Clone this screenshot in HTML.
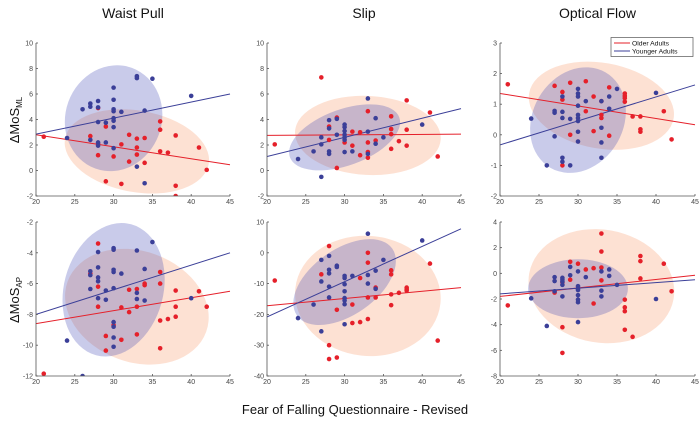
<!DOCTYPE html>
<html><head><meta charset="utf-8"><style>
body{margin:0;background:#fff;}
svg{display:block;font-family:"Liberation Sans",sans-serif;}
</style></head><body>
<svg id="fig" width="700" height="422"></svg>
<script>
// ---- data ----
const xTicks=[20,25,30,35,40,45];
const titles=["Waist Pull","Slip","Optical Flow"];
const yTicks1=[-2,0,2,4,6,8,10];
const yTicks2=[-2,0,2,4,6,8,10];
const yTicks3=[-2,-1,0,1,2,3];
const yTicks4=[-12,-10,-8,-6,-4,-2];
const yTicks5=[-40,-30,-20,-10,0,10];
const yTicks6=[-8,-6,-4,-2,0,2,4];
const old1=[[21,2.65],[27,2.7],[28,4.9],[28,2.1],[28,1.2],[29,3.45],[29,-0.85],[30,1.1],[31,2.05],[31,-1.05],[32,2.8],[32,0.7],[33,2.5],[33,1.8],[33,1.25],[34,2.55],[34,0.6],[36,3.85],[36,3.2],[36,1.5],[37,1.4],[38,2.75],[38,-1.2],[38,-2],[41,1.8],[42,0.05]];
const yng1=[[24,2.55],[26,4.8],[27,5.25],[27,5.0],[27,2.4],[28,5.45],[28,4.95],[28,3.8],[28,2.2],[28,1.95],[29,3.75],[29,2.2],[30,6.5],[30,5.55],[30,4.8],[30,4.65],[30,4.1],[30,3.9],[30,3.4],[30,1.75],[31,4.6],[33,7.4],[33,7.25],[33,0.3],[34,4.7],[34,-1],[35,7.2],[40,5.85]];
const old2=[[21,2.05],[27,7.3],[28,3.45],[28,2.4],[29,4.15],[29,0.2],[30,2.2],[31,3.05],[31,1.95],[32,3.0],[32,1.2],[33,4.65],[33,2.2],[33,1.45],[33,1.0],[34,2.35],[36,4.25],[36,3.25],[36,2.85],[36,1.7],[37,2.3],[38,5.5],[38,3.2],[38,1.95],[41,4.55],[42,1.1]];
const yng2=[[24,0.9],[26,1.5],[27,2.6],[27,2.05],[27,-0.5],[28,3.95],[28,3.3],[28,1.5],[28,1.3],[29,4.05],[29,2.8],[30,3.6],[30,3.4],[30,3.1],[30,2.8],[30,2.6],[30,2.4],[30,1.45],[31,1.5],[33,5.65],[33,3.05],[33,1.3],[34,4.1],[34,2.1],[35,2.6],[40,3.6]];
const old3=[[21,1.65],[27,1.6],[28,1.4],[28,1.15],[28,-1.0],[29,1.7],[29,0.0],[31,1.75],[31,0.77],[32,1.25],[32,0.12],[33,1.1],[33,0.65],[33,0.55],[34,1.55],[34,-0.03],[36,1.35],[36,1.27],[36,1.2],[36,1.08],[37,0.6],[38,0.6],[38,0.18],[38,0.1],[41,0.77],[42,-0.15]];
const yng3=[[24,0.53],[26,-1.0],[27,0.78],[27,0.72],[27,-0.05],[28,1.25],[28,0.75],[28,0.55],[28,-0.75],[28,-0.88],[29,0.52],[29,-1.0],[30,1.5],[30,1.35],[30,1.25],[30,0.95],[30,0.65],[30,0.55],[30,0.45],[30,0.1],[30,-0.22],[31,1.1],[33,1.1],[33,0.23],[33,-0.25],[33,-0.75],[34,1.25],[34,0.85],[35,1.5],[40,1.37]];
const old4=[[21,-11.85],[27,-5.35],[28,-3.4],[28,-6.2],[28,-7.5],[29,-9.4],[29,-10.35],[30,-8.7],[31,-7.55],[31,-9.65],[32,-6.4],[32,-7.85],[33,-6.35],[33,-7.5],[33,-9.3],[34,-6.0],[34,-6.1],[36,-5.25],[36,-6.0],[36,-8.4],[36,-10.2],[37,-8.3],[38,-6.45],[38,-7.5],[38,-8.15],[41,-6.5],[42,-7.5]];
const yng4=[[24,-9.7],[26,-12],[27,-5.2],[27,-5.45],[27,-6.35],[28,-3.95],[28,-4.95],[28,-5.6],[28,-5.85],[28,-6.95],[29,-6.45],[29,-7.05],[30,-3.7],[30,-3.8],[30,-5.1],[30,-5.25],[30,-6.3],[30,-8.5],[30,-8.8],[30,-9.5],[30,-10.1],[31,-5.35],[33,-3.85],[33,-6.6],[33,-7.0],[34,-5.05],[34,-7.1],[35,-3.3],[40,-6.95]];
const old5=[[21,-9],[27,-7],[28,2.2],[28,-30],[28,-34.5],[29,-18.5],[29,-34],[31,-16.8],[31,-22.8],[32,-8.2],[32,-22.5],[33,0],[33,-3.2],[33,-14.5],[33,-21.5],[34,-11.3],[34,-14.5],[36,-5.7],[36,-7],[36,-13.5],[36,-17],[37,-13],[38,-11.3],[38,-11.8],[38,-12.3],[41,-3.5],[42,-28.5]];
const yng5=[[24,-21.2],[26,-16.8],[27,-2.3],[27,-9.3],[27,-25.5],[28,-1],[28,-5.5],[28,-6.7],[28,-11],[28,-14.5],[29,-4.2],[29,-4.6],[30,-7.5],[30,-8.2],[30,-10.2],[30,-12.5],[30,-14.7],[30,-15.5],[30,-16.7],[30,-23.2],[31,-7.5],[33,6.2],[33,-7.2],[33,-10],[34,-5.8],[34,-11.7],[35,-2.3],[40,4]];
const old6=[[21,-2.5],[27,-1.5],[28,-0.7],[28,-4.2],[28,-6.2],[29,0.9],[29,-0.5],[30,0.75],[31,0.3],[32,0.4],[32,-2.35],[33,3.1],[33,1.7],[33,0.45],[33,-0.55],[36,-2.05],[36,-2.65],[36,-2.95],[36,-4.4],[37,-4.95],[38,1.35],[38,0.95],[38,-0.4],[41,0.75],[42,-1.4]];
const yng6=[[24,-1.95],[26,-4.1],[27,-0.3],[27,-0.6],[27,-1.4],[28,-0.35],[28,-0.5],[28,-0.65],[28,-0.9],[28,-1.8],[29,0.5],[29,-0.15],[30,0.15],[30,-1.0],[30,-1.2],[30,-1.3],[30,-1.7],[30,-2.05],[30,-2.25],[30,-3.8],[31,-0.3],[33,0.15],[33,-1.35],[33,-1.8],[34,0.3],[34,-0.2],[35,-0.9],[40,-2.0]];
// fit lines: [y at x=20, y at x=45]
const oldFit=[[2.8,0.45],[2.75,2.85],[1.35,0.33],[-8.6,-6.5],[-17.2,-11.3],[-1.8,-0.15]];
const yngFit=[[2.85,6],[1.1,4.85],[-0.33,1.63],[-8,-4],[-20.8,7.8],[-1.6,-0.5]];
// ellipses: [cx, cy, semi-x (x units), semi-y (y units), angle deg]
const oldEll=[[33,1.5,9.4,3.2,10],[33,2.75,9.4,3.1,3],[33,0.95,9.4,1.4,10],[33,-7.5,9.5,3.6,20],[33,-14,9.4,19.5,6],[33,-1,9.4,4.4,10]];
const yngEll=[[30,4.1,6.2,4.2,20],[30,2.6,7.5,2.2,-20],[30,0.48,5.8,1.8,30],[30,-6.4,6.4,4.4,15],[30,-9.5,7.5,10.7,-35],[30,-1.2,6.4,2.3,0]];

const NS="http://www.w3.org/2000/svg";
const svg=document.getElementById('fig');
function mk(tag,attrs,parent){const e=document.createElementNS(NS,tag);for(const k in attrs)e.setAttribute(k,attrs[k]);(parent||svg).appendChild(e);return e;}
const cols=[[36,230],[267,461],[500,695]];
const rows=[[43,196],[222,376]];
const panels=[
 {yt:yTicks1,o:old1,y:yng1},{yt:yTicks2,o:old2,y:yng2},{yt:yTicks3,o:old3,y:yng3},
 {yt:yTicks4,o:old4,y:yng4},{yt:yTicks5,o:old5,y:yng5},{yt:yTicks6,o:old6,y:yng6}];
const RED="#e5202a",BLUE="#3b3f98";
panels.forEach((p,i)=>{
  const c=cols[i%3],r=rows[Math.floor(i/3)];
  const ymin=p.yt[0],ymax=p.yt[p.yt.length-1];
  const sx=v=>c[0]+(v-20)/25*(c[1]-c[0]);
  const sy=v=>r[1]-(v-ymin)/(ymax-ymin)*(r[1]-r[0]);
  const g=mk('g',{});
  
  
  const clip=mk('clipPath',{id:'cp'+i},g);
  mk('rect',{x:c[0],y:r[0]-30,width:c[1]-c[0]+5,height:r[1]-r[0]+30},clip);
  const pg=mk('g',{'clip-path':'url(#cp'+i+')'},g);
  [[oldEll[i],'rgba(250,170,130,0.35)','older-ellipse'],[yngEll[i],'rgba(60,70,180,0.28)','younger-ellipse']].forEach(([e,f,n])=>{
    const pxs=(c[1]-c[0])/25,pys=(r[1]-r[0])/(ymax-ymin);
    const el=mk('ellipse',{cx:sx(e[0]),cy:sy(e[1]),rx:e[2]*pxs,ry:e[3]*pys,fill:f,transform:`rotate(${e[4]} ${sx(e[0])} ${sy(e[1])})`},pg);
    
    
  });
  [[oldFit[i],RED,'older-fit-line'],[yngFit[i],BLUE,'younger-fit-line']].forEach(([f,col,n])=>{
    const l=mk('line',{x1:sx(20),y1:sy(f[0]),x2:sx(45),y2:sy(f[1]),stroke:col,'stroke-width':1},pg);
    
    
  });
  [[p.o,RED,'older-point'],[p.y,BLUE,'younger-point']].forEach(([pts,col,n])=>{
    pts.forEach(d=>{
      const ci=mk('circle',{cx:sx(d[0]),cy:sy(d[1]),r:2.3,fill:col},pg);
      
      
    });
  });
  const ax=mk('path',{d:`M${c[0]},${r[0]}V${r[1]}H${c[1]}`,stroke:'#555',fill:'none','stroke-width':0.8},g);
  
  
  xTicks.forEach(t=>{
    mk('line',{x1:sx(t),x2:sx(t),y1:r[1],y2:r[1]-2,stroke:'#555','stroke-width':0.8},g);
    const tx=mk('text',{x:sx(t),y:r[1]+8,'font-size':7,fill:'#444','text-anchor':'middle'},g);
    tx.textContent=t;
    
    
  });
  p.yt.forEach(t=>{
    mk('line',{x1:c[0],x2:c[0]+2,y1:sy(t),y2:sy(t),stroke:'#555','stroke-width':0.8},g);
    const tx=mk('text',{x:c[0]-3,y:sy(t)+2.5,'font-size':7,fill:'#444','text-anchor':'end'},g);
    tx.textContent=t;
    
    
  });
});
titles.forEach((t,i)=>{
  const tx=mk('text',{x:(cols[i][0]+cols[i][1])/2,y:18,'font-size':14,'text-anchor':'middle',fill:'#111'});
  tx.textContent=t;
  
  
});
</script>
<svg width="700" height="422" style="position:absolute;left:0;top:0">
 <text transform="translate(19,120) rotate(-90)" font-size="13" text-anchor="middle" fill="#111">ΔMoS<tspan font-size="8" dy="3">ML</tspan></text>
 <text transform="translate(19,300) rotate(-90)" font-size="13" text-anchor="middle" fill="#111">ΔMoS<tspan font-size="8" dy="3">AP</tspan></text>
 <text x="355" y="414" font-size="13" text-anchor="middle" fill="#111">Fear of Falling Questionnaire - Revised</text>
 <g>
  <rect x="611" y="37.5" width="82" height="19" fill="#fff" stroke="#555" stroke-width="0.7"/>
  <line x1="614" y1="43" x2="630" y2="43" stroke="#e5202a"/>
  <text x="632" y="45.5" font-size="6.8" fill="#111">Older Adults</text>
  <line x1="614" y1="51" x2="630" y2="51" stroke="#3b3f98"/>
  <text x="632" y="53.5" font-size="6.8" fill="#111">Younger Adults</text>
 </g>
</svg>
</body></html>
